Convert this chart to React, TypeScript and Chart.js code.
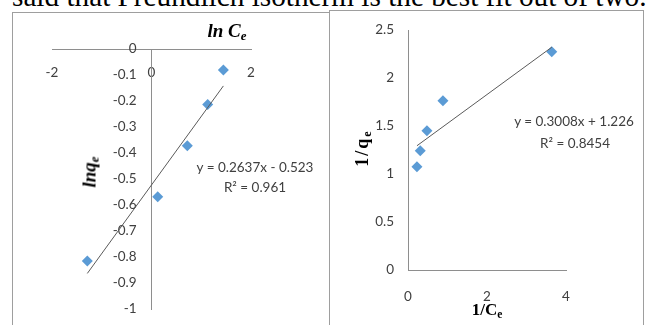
import React, { useEffect, useRef } from 'react';
import { Chart, registerables } from 'chart.js';

Chart.register(...registerables);

// ---- Freundlich (left) ----
const freundlichLnCe = [-1.29, 0.125, 0.72, 1.13, 1.445];
const freundlichLnQe = [-0.815, -0.568, -0.372, -0.213, -0.081];
const freundlichSlope = 0.2637;
const freundlichIntercept = -0.523;
const freundlichEquation = 'y = 0.2637x - 0.523';
const freundlichR2 = 'R² = 0.961';
const freundlichXTicks = [-2, 0, 2];
const freundlichYTicks = [0, -0.1, -0.2, -0.3, -0.4, -0.5, -0.6, -0.7, -0.8, -0.9, -1];

// ---- Langmuir (right) ----
const langmuirInvCe = [0.227, 0.31, 0.48, 0.884, 3.64];
const langmuirInvQe = [1.076, 1.243, 1.451, 1.764, 2.274];
const langmuirSlope = 0.3008;
const langmuirIntercept = 1.226;
const langmuirEquation = 'y = 0.3008x + 1.226';
const langmuirR2 = 'R² = 0.8454';
const langmuirXTicks = [0, 2, 4];
const langmuirYTicks = [0, 0.5, 1, 1.5, 2, 2.5];

const headingText = 'said that Freundlich isotherm is the best fit out of two.';

const TICK_FONT = { family: 'Lato, "Open Sans", sans-serif', size: 13.5 };
const TICK_COLOR = '#404040';
const AXIS_COLOR = '#8e8e8e';
const MARKER_COLOR = '#5B9BD5';
const TREND_COLOR = '#5a5a5a';

function fixedTicks(values: number[]) {
  return (scale: any) => {
    scale.ticks = values.map((v) => ({ value: v }));
  };
}

function buildConfig(opts: {
  xs: number[];
  ys: number[];
  slope: number;
  intercept: number;
  xMin: number;
  xMax: number;
  yMin: number;
  yMax: number;
  xTicks: number[];
  yTicks: number[];
  labelAxisX: number;
  xPad: number;
  padding: { left: number; right: number; top: number; bottom: number };
}) {
  const pts = opts.xs.map((x, i) => ({ x, y: opts.ys[i] }));
  const lo = Math.min(...opts.xs);
  const hi = Math.max(...opts.xs);
  const trend = [
    { x: lo, y: opts.slope * lo + opts.intercept },
    { x: hi, y: opts.slope * hi + opts.intercept },
  ];
  return {
    type: 'scatter' as const,
    data: {
      datasets: [
        {
          type: 'line' as const,
          data: trend,
          borderColor: TREND_COLOR,
          borderWidth: 1,
          pointRadius: 0,
          fill: false,
          showLine: true,
          xAxisID: 'x',
          yAxisID: 'y',
        },
        {
          data: pts,
          pointStyle: 'rectRot',
          pointRadius: 5.5,
          backgroundColor: MARKER_COLOR,
          borderWidth: 0,
          xAxisID: 'x',
          yAxisID: 'y',
        },
      ],
    },
    options: {
      responsive: false,
      animation: false,
      events: [],
      layout: { padding: opts.padding },
      plugins: {
        legend: { display: false },
        tooltip: { enabled: false },
        title: { display: false },
      },
      scales: {
        x: {
          type: 'linear',
          axis: 'x',
          min: opts.xMin,
          max: opts.xMax,
          position: { y: 0 },
          grid: { display: false, drawTicks: false },
          border: { display: true, color: AXIS_COLOR, width: 1 },
          afterBuildTicks: fixedTicks(opts.xTicks),
          ticks: {
            font: TICK_FONT,
            color: TICK_COLOR,
            padding: opts.xPad,
            maxRotation: 0,
            autoSkip: false,
            callback: (v: any) => String(v),
          },
        },
        y: {
          type: 'linear',
          axis: 'y',
          min: opts.yMin,
          max: opts.yMax,
          position: { x: 0 },
          grid: { display: false, drawTicks: false },
          border: { display: true, color: AXIS_COLOR, width: 1 },
          ticks: { display: false },
        },
        yl: {
          type: 'linear',
          axis: 'y',
          min: opts.yMin,
          max: opts.yMax,
          position: { x: opts.labelAxisX },
          grid: { display: false, drawTicks: false },
          border: { display: false },
          afterBuildTicks: fixedTicks(opts.yTicks),
          ticks: {
            font: TICK_FONT,
            color: TICK_COLOR,
            padding: 0,
            autoSkip: false,
            callback: (v: any) => String(v),
          },
        },
      },
    },
  };
}

function ChartCanvas(props: { config: any; left: number; top: number; width: number; height: number }) {
  const ref = useRef<HTMLCanvasElement | null>(null);
  useEffect(() => {
    if (!ref.current) return;
    const chart = new Chart(ref.current, props.config);
    return () => chart.destroy();
  }, []);
  return (
    <canvas
      ref={ref}
      width={props.width}
      height={props.height}
      style={{
        position: 'absolute',
        left: props.left,
        top: props.top,
        width: props.width,
        height: props.height,
      }}
    />
  );
}

const serif = '"Liberation Serif", "Times New Roman", serif';
const sub = (txt: string, size: string, drop: string) => (
  <span style={{ fontSize: size, position: 'relative', top: drop }}>{txt}</span>
);

export default function App() {
  const leftConfig = buildConfig({
    xs: freundlichLnCe,
    ys: freundlichLnQe,
    slope: freundlichSlope,
    intercept: freundlichIntercept,
    xMin: -2,
    xMax: 2,
    yMin: -1,
    yMax: 0,
    xTicks: freundlichXTicks,
    yTicks: freundlichYTicks,
    labelAxisX: -0.3,
    xPad: 16,
    padding: { left: 52, right: 79, top: 49, bottom: 16 },
  });
  const rightConfig = buildConfig({
    xs: langmuirInvCe,
    ys: langmuirInvQe,
    slope: langmuirSlope,
    intercept: langmuirIntercept,
    xMin: 0,
    xMax: 4,
    yMin: 0,
    yMax: 2.5,
    xTicks: langmuirXTicks,
    yTicks: langmuirYTicks,
    labelAxisX: -0.354,
    xPad: 19,
    padding: { left: 78, right: 80, top: 30, bottom: 55 },
  });

  const eqStyle = (x: number, y: number): React.CSSProperties => ({
    position: 'absolute',
    left: x,
    top: y,
    transform: 'translate(-50%, -50%)',
    font: '13.5px Lato, "Open Sans", sans-serif',
    lineHeight: '14px',
    color: TICK_COLOR,
    whiteSpace: 'nowrap',
  });

  return (
    <div
      style={{
        position: 'absolute',
        left: 0,
        top: 0,
        width: 646,
        height: 325,
        overflow: 'hidden',
        background: '#fff',
      }}
    >
      <div
        style={{
          position: 'absolute',
          left: 12,
          top: -18,
          fontFamily: serif,
          fontSize: '29.25px',
          lineHeight: '29.25px',
          color: '#000',
          whiteSpace: 'nowrap',
        }}
      >
        {headingText}
      </div>

      {/* chart frames */}
      <div
        style={{
          position: 'absolute',
          left: 12,
          top: 12,
          width: 317,
          height: 330,
          borderLeft: '1px solid #9e9e9e',
          borderTop: '1px solid #9e9e9e',
          boxSizing: 'border-box',
        }}
      />
      <div
        style={{
          position: 'absolute',
          left: 329,
          top: 10,
          width: 315,
          height: 330,
          border: '1px solid #9e9e9e',
          boxSizing: 'border-box',
        }}
      />

      <ChartCanvas config={leftConfig} left={0} top={0} width={330} height={325} />
      <ChartCanvas config={rightConfig} left={330} top={0} width={316} height={325} />

      {/* left axis titles */}
      <div
        style={{
          position: 'absolute',
          left: 227,
          top: 21,
          transform: 'translateX(-50%)',
          fontFamily: serif,
          fontWeight: 'bold',
          fontStyle: 'italic',
          fontSize: '19px',
          lineHeight: '19px',
          color: '#000',
          whiteSpace: 'nowrap',
        }}
      >
        ln C{sub('e', '0.68em', '0.25em')}
      </div>
      <div
        style={{
          position: 'absolute',
          left: 90,
          top: 172,
          transform: 'translate(-50%, -50%) rotate(-90deg)',
          fontFamily: serif,
          fontWeight: 'bold',
          fontStyle: 'italic',
          fontSize: '19px',
          lineHeight: '19px',
          color: '#000',
          whiteSpace: 'nowrap',
        }}
      >
        lnq{sub('e', '0.68em', '0.25em')}
      </div>

      {/* right axis titles */}
      <div
        style={{
          position: 'absolute',
          left: 363,
          top: 148,
          transform: 'translate(-50%, -50%) rotate(-90deg)',
          fontFamily: serif,
          fontWeight: 'bold',
          fontSize: '18px',
          lineHeight: '18px',
          letterSpacing: '2px',
          color: '#000',
          whiteSpace: 'nowrap',
        }}
      >
        1/q{sub('e', '0.68em', '0.25em')}
      </div>
      <div
        style={{
          position: 'absolute',
          left: 487,
          top: 301,
          transform: 'translateX(-50%)',
          fontFamily: serif,
          fontWeight: 'bold',
          fontSize: '17px',
          lineHeight: '17px',
          color: '#000',
          whiteSpace: 'nowrap',
        }}
      >
        1/C{sub('e', '0.68em', '0.25em')}
      </div>

      {/* trendline labels */}
      <div style={eqStyle(255, 167)}>{freundlichEquation}</div>
      <div style={eqStyle(255, 187)}>{freundlichR2}</div>
      <div style={eqStyle(574, 121)}>{langmuirEquation}</div>
      <div style={eqStyle(575, 143)}>{langmuirR2}</div>
    </div>
  );
}
